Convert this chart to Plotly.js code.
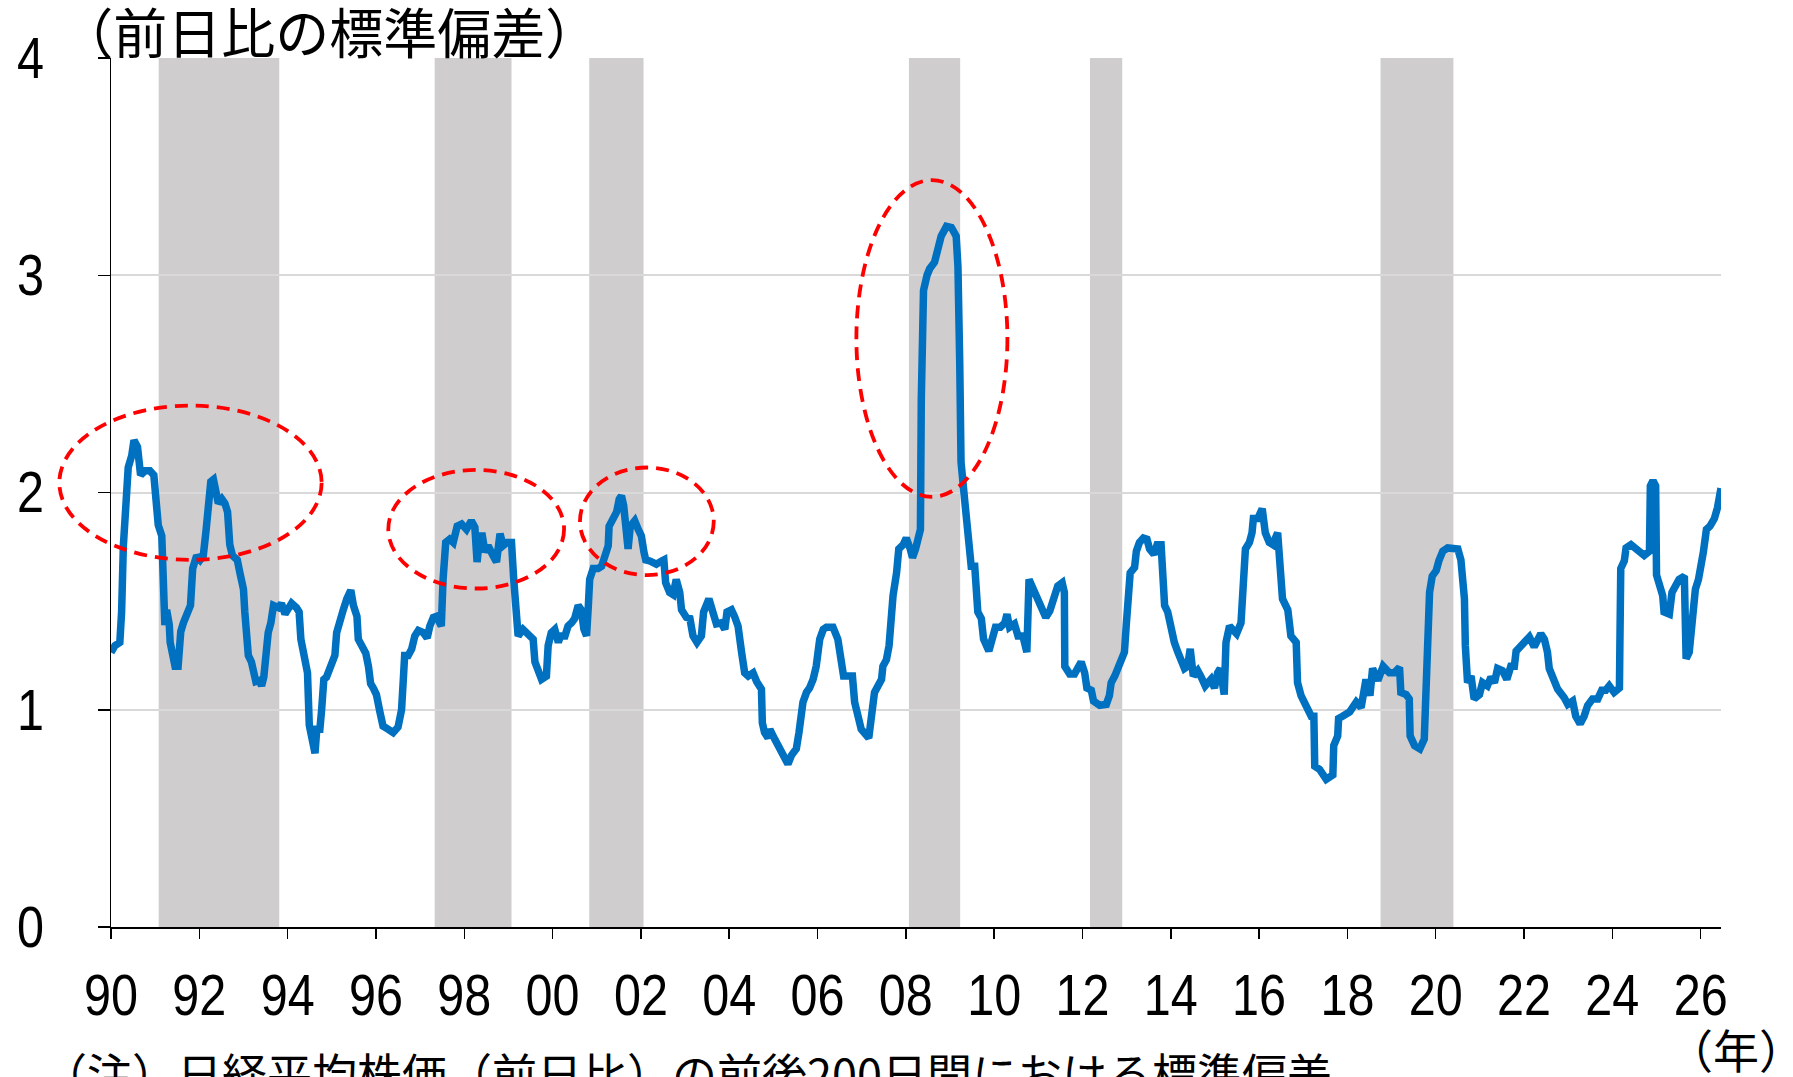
<!DOCTYPE html>
<html><head><meta charset="utf-8">
<script src="https://cdn.plot.ly/plotly-3.0.1.min.js"></script>
<style>html,body{margin:0;padding:0;background:#fff}#chart{width:1793px;height:1077px}</style>
</head><body><div id="chart"></div>
<script>
const years = [
1990.00,1990.09,1990.20,1990.24,1990.28,1990.34,1990.39,1990.47,1990.52,1990.60,1990.64,1990.67,1990.77,1990.88,1990.97,
1991.03,1991.07,1991.15,1991.17,1991.18,1991.22,1991.26,1991.32,1991.34,1991.41,1991.45,1991.52,1991.58,1991.64,1991.73,1991.80,1991.85,1991.94,
1992.02,1992.09,1992.15,1992.20,1992.26,1992.32,1992.38,1992.43,1992.51,1992.58,1992.64,1992.69,1992.75,1992.86,1992.92,
1993.00,1993.03,1993.07,1993.11,1993.18,1993.24,1993.28,1993.36,1993.41,1993.46,1993.51,1993.56,1993.62,1993.64,1993.68,1993.79,1993.86,1993.94,
1994.02,1994.09,1994.20,1994.26,1994.30,1994.37,1994.45,1994.49,1994.54,1994.62,1994.66,1994.73,1994.77,1994.82,1994.88,1994.99,
1995.07,1995.11,1995.18,1995.26,1995.34,1995.43,1995.49,1995.57,1995.60,1995.68,1995.77,1995.83,1995.88,1995.94,
1996.01,1996.09,1996.16,1996.28,1996.39,1996.50,1996.58,1996.62,1996.65,1996.73,1996.81,1996.88,1996.96,
1997.07,1997.16,1997.22,1997.30,1997.37,1997.48,1997.52,1997.58,1997.67,1997.75,1997.84,1997.94,
1998.05,1998.16,1998.24,1998.29,1998.35,1998.41,1998.47,1998.54,1998.65,1998.73,1998.81,1998.88,1998.97,
1999.07,1999.12,1999.17,1999.22,1999.33,1999.48,1999.56,1999.60,1999.67,1999.75,1999.86,1999.90,1999.97,
2000.05,2000.13,2000.18,2000.28,2000.35,2000.43,2000.50,2000.58,2000.65,2000.71,2000.77,2000.81,2000.84,2000.92,
2001.03,2001.11,2001.18,2001.26,2001.28,2001.37,2001.45,2001.51,2001.56,2001.61,2001.66,2001.71,2001.76,2001.86,2001.94,
2002.01,2002.07,2002.11,2002.20,2002.35,2002.47,2002.52,2002.56,2002.65,2002.73,2002.80,2002.88,2002.92,
2003.03,2003.11,2003.18,2003.27,2003.37,2003.42,2003.54,2003.62,2003.71,2003.82,2003.90,2003.95,
2004.05,2004.12,2004.20,2004.28,2004.35,2004.43,2004.54,2004.62,2004.73,2004.75,2004.80,2004.88,2004.92,
2005.03,2005.13,2005.22,2005.33,2005.41,2005.52,2005.58,2005.63,2005.67,2005.75,2005.82,2005.90,2005.97,
2006.05,2006.13,2006.20,2006.35,2006.46,2006.54,2006.59,2006.69,2006.79,2006.84,2006.92,2006.99,
2007.16,2007.22,2007.29,2007.37,2007.45,2007.48,2007.56,2007.62,2007.65,2007.71,2007.79,2007.84,2007.94,
2008.01,2008.10,2008.15,2008.22,2008.28,2008.33,2008.35,2008.40,2008.48,2008.54,2008.65,2008.73,2008.80,2008.92,
2009.03,2009.14,2009.18,2009.22,2009.25,2009.33,2009.41,2009.48,2009.56,2009.63,2009.71,2009.76,2009.88,2009.96,
2010.03,2010.14,2010.24,2010.29,2010.35,2010.46,2010.54,2010.65,2010.74,2010.79,2010.86,2010.95,
2011.07,2011.17,2011.26,2011.33,2011.44,2011.54,2011.59,2011.60,2011.71,2011.82,2011.90,2011.97,
2012.05,2012.10,2012.20,2012.25,2012.39,2012.54,2012.61,2012.65,2012.73,2012.80,2012.86,2012.95,2012.99,
2013.03,2013.08,2013.18,2013.22,2013.29,2013.38,2013.46,2013.52,2013.62,2013.69,2013.78,2013.82,2013.86,2013.93,
2014.01,2014.08,2014.16,2014.24,2014.31,2014.38,2014.44,2014.51,2014.61,2014.69,2014.78,2014.91,2014.99,
2015.06,2015.12,2015.21,2015.25,2015.33,2015.40,2015.49,2015.59,2015.64,2015.69,2015.78,2015.84,2015.87,2015.97,
2016.07,2016.14,2016.23,2016.31,2016.42,2016.48,2016.53,2016.65,2016.72,2016.84,2016.87,2016.95,
2017.06,2017.18,2017.24,2017.26,2017.37,2017.52,2017.67,2017.69,2017.78,2017.80,2017.89,
2018.05,2018.20,2018.31,2018.42,2018.51,2018.57,2018.69,2018.81,2018.95,
2019.06,2019.18,2019.21,2019.33,2019.40,2019.42,2019.52,2019.64,2019.74,2019.78,2019.82,2019.86,2019.92,
2020.01,2020.07,2020.16,2020.27,2020.42,2020.50,2020.57,2020.65,2020.67,2020.72,2020.80,2020.87,2020.99,
2021.06,2021.17,2021.25,2021.33,2021.40,2021.51,2021.61,2021.70,2021.78,2021.82,2021.93,
2022.00,2022.12,2022.23,2022.31,2022.38,2022.46,2022.53,2022.57,2022.68,2022.76,2022.91,2022.99,
2023.10,2023.17,2023.27,2023.36,2023.44,2023.55,2023.67,2023.76,2023.85,2023.93,
2024.04,2024.16,2024.17,2024.19,2024.27,2024.31,2024.42,2024.53,2024.64,2024.72,2024.84,2024.86,2024.92,2024.98,
2025.00,2025.06,2025.14,2025.17,2025.29,2025.35,2025.44,2025.51,2025.63,2025.67,2025.74,2025.82,2025.88,2025.95,
2026.00,2026.06,2026.13,2026.21,2026.31,2026.38,2026.46
];
const stdev = [
1.264,1.295,1.31,1.45,1.755,2.06,2.115,2.17,2.24,2.21,2.15,2.08,2.10,2.10,2.08,
1.97,1.85,1.80,1.60,1.48,1.39,1.46,1.39,1.31,1.26,1.20,1.20,1.36,1.40,1.45,1.48,1.65,1.71,
1.69,1.71,1.82,1.91,2.05,2.06,2.015,1.95,1.97,1.95,1.91,1.76,1.71,1.69,1.63,
1.555,1.45,1.325,1.25,1.22,1.17,1.13,1.135,1.11,1.15,1.325,1.355,1.40,1.46,1.48,1.47,1.49,1.44,
1.46,1.49,1.47,1.45,1.325,1.23,1.17,0.93,0.865,0.80,0.91,0.91,1.00,1.14,1.15,1.20,
1.25,1.355,1.42,1.46,1.51,1.55,1.48,1.43,1.325,1.295,1.26,1.20,1.12,1.10,
1.07,0.99,0.925,0.91,0.895,0.92,1.00,1.14,1.25,1.25,1.28,1.34,1.365,
1.355,1.33,1.385,1.425,1.43,1.385,1.60,1.77,1.785,1.77,1.845,1.855,
1.83,1.87,1.84,1.68,1.80,1.80,1.725,1.755,1.71,1.68,1.81,1.755,1.77,
1.77,1.60,1.42,1.34,1.37,1.34,1.325,1.22,1.17,1.14,1.155,1.295,1.355,
1.37,1.31,1.34,1.34,1.385,1.40,1.42,1.48,1.46,1.37,1.34,1.48,1.60,1.65,
1.65,1.66,1.71,1.755,1.845,1.89,1.91,1.97,1.985,1.94,1.815,1.74,1.845,1.87,1.83,
1.80,1.725,1.69,1.685,1.67,1.685,1.69,1.585,1.54,1.53,1.60,1.54,1.46,
1.425,1.42,1.34,1.31,1.34,1.45,1.51,1.45,1.395,1.40,1.37,1.45,
1.46,1.43,1.385,1.265,1.17,1.155,1.17,1.13,1.095,0.94,0.895,0.87,0.91,
0.865,0.82,0.79,0.75,0.79,0.82,0.895,1.02,1.035,1.08,1.10,1.14,1.20,
1.325,1.37,1.38,1.38,1.325,1.20,1.155,1.155,1.155,1.035,0.96,0.91,
0.87,1.00,1.08,1.11,1.14,1.20,1.23,1.295,1.42,1.525,1.63,1.74,1.76,
1.79,1.74,1.70,1.74,1.815,1.83,2.43,2.93,3.00,3.03,3.06,3.12,3.18,3.225,
3.22,3.18,3.04,2.60,2.14,1.97,1.83,1.66,1.66,1.45,1.42,1.325,1.27,1.325,
1.38,1.38,1.40,1.44,1.38,1.395,1.34,1.34,1.265,1.60,1.57,1.525,
1.48,1.425,1.455,1.51,1.57,1.585,1.54,1.20,1.165,1.165,1.20,1.22,
1.17,1.10,1.09,1.04,1.02,1.025,1.065,1.125,1.155,1.19,1.225,1.265,1.385,
1.525,1.63,1.655,1.73,1.77,1.79,1.785,1.74,1.715,1.76,1.76,1.60,1.48,1.45,
1.37,1.31,1.265,1.23,1.19,1.20,1.28,1.155,1.18,1.15,1.11,1.14,1.10,
1.17,1.19,1.07,1.31,1.385,1.37,1.35,1.40,1.555,1.74,1.77,1.815,1.88,1.88,
1.925,1.815,1.77,1.76,1.815,1.69,1.51,1.46,1.34,1.31,1.125,1.065,
1.02,0.97,0.97,0.74,0.725,0.68,0.70,0.835,0.88,0.96,0.97,
0.99,1.035,1.01,1.14,1.065,1.19,1.135,1.20,1.17,
1.17,1.195,1.08,1.07,1.05,0.88,0.835,0.82,0.865,1.17,1.45,1.54,1.615,
1.64,1.685,1.73,1.745,1.745,1.74,1.69,1.51,1.295,1.125,1.155,1.05,1.07,
1.125,1.11,1.15,1.125,1.19,1.18,1.14,1.20,1.20,1.27,1.295,
1.32,1.335,1.29,1.325,1.35,1.325,1.265,1.19,1.14,1.095,1.055,1.025,
1.04,0.97,0.935,0.97,1.02,1.05,1.05,1.09,1.09,1.11,
1.08,1.10,1.295,1.65,1.685,1.745,1.76,1.74,1.73,1.71,1.73,2.03,2.055,2.03,
1.62,1.57,1.525,1.45,1.44,1.54,1.585,1.60,1.615,1.235,1.265,1.45,1.555,1.60,
1.65,1.725,1.83,1.845,1.88,1.93,2.02
];
// recession periods (shaded)
const recStart = [1991.08, 1997.33, 2000.83, 2008.07, 2012.17, 2018.75];
const recEnd   = [1993.81, 1999.07, 2002.06, 2009.23, 2012.90, 2020.40];
// highlighted ellipses
const ellX0 = [1988.83, 1996.28, 2000.62, 2006.88];
const ellX1 = [1994.77, 2000.26, 2003.65, 2010.30];
const ellY0 = [1.69, 1.558, 1.62, 1.98];
const ellY1 = [2.40, 2.104, 2.115, 3.438];
const xTickVals = [1990,1992,1994,1996,1998,2000,2002,2004,2006,2008,2010,2012,2014,2016,2018,2020,2022,2024,2026];
const xTickText = ["90","92","94","96","98","00","02","04","06","08","10","12","14","16","18","20","22","24","26"];
const yTickVals = [0,1,2,3,4];

const xRange = [1990, 2026.46];
const numFont = "Liberation Sans, Arial, sans-serif";
const cjkFont = "Noto Sans CJK JP, sans-serif";

const shapes = [];
for (let i = 0; i < recStart.length; i++) {
  shapes.push({type:'rect', xref:'x', yref:'paper', x0:recStart[i], x1:recEnd[i], y0:0, y1:1,
    fillcolor:'#CFCDCE', line:{width:0}, layer:'between'});
}
for (let i = 0; i < ellX0.length; i++) {
  const span = xRange[1]-xRange[0];
  shapes.push({type:'circle', xref:'paper', yref:'y',
    x0:(ellX0[i]-xRange[0])/span, x1:(ellX1[i]-xRange[0])/span, y0:ellY0[i], y1:ellY1[i],
    line:{color:'#FF0000', width:3.8, dash:'13px,8px'}, layer:'above'});
}

const trace = {x: years, y: stdev, type:'scatter', mode:'lines',
  line:{color:'#0070C0', width:7.5}, hoverinfo:'skip'};

const layout = {
  width:1793, height:1077,
  margin:{l:111, r:72, t:58, b:150},
  paper_bgcolor:'#ffffff', plot_bgcolor:'#ffffff',
  showlegend:false,
  title:{text:'（前日比の標準偏差）', font:{family:cjkFont, size:54, color:'#000'},
    xref:'container', yref:'container', x:0.033, xanchor:'left', y:0.967, yanchor:'middle'},
  xaxis:{range:xRange, tickmode:'array', tickvals:xTickVals, ticktext:xTickText,
    showgrid:false, zeroline:false, showline:true, linecolor:'#000', linewidth:1.5,
    ticks:'outside', ticklen:10, tickcolor:'#000', tickwidth:1.5,
    tickfont:{family:numFont, size:57, color:'#000'}, ticklabelstandoff:8},
  yaxis:{range:[0,4], tickmode:'array', tickvals:yTickVals,
    showgrid:true, gridcolor:'#D9D9D9', gridwidth:2, zeroline:false,
    showline:true, linecolor:'#000', linewidth:1.5,
    ticks:'outside', ticklen:12, tickcolor:'#000', tickwidth:1.5,
    tickfont:{family:numFont, size:57, color:'#000'}, ticklabelstandoff:42},
  shapes: shapes,
  annotations:[
    {text:'（年）', xref:'paper', yref:'paper', x:1.0095, y:-0.139, xanchor:'center', yanchor:'middle',
      showarrow:false, font:{family:cjkFont, size:46, color:'#000'}},
    {text:'（注）日経平均株価（前日比）の前後200日間における標準偏差', xref:'paper', yref:'paper',
      x:-0.044, y:-0.168, xanchor:'left', yanchor:'middle', showarrow:false,
      font:{family:cjkFont, size:45, color:'#000'}}
  ]
};
Plotly.newPlot('chart', [trace], layout, {staticPlot:true, displayModeBar:false}).then(function(gd){
  // condensed digits like the original (narrow numeric font)
  gd.querySelectorAll('.xtick text, .ytick text').forEach(function(t){
    const n = (t.textContent || '').length;
    t.setAttribute('textLength', String(n * 27));
    t.setAttribute('lengthAdjust', 'spacingAndGlyphs');
  });
});
</script></body></html>
